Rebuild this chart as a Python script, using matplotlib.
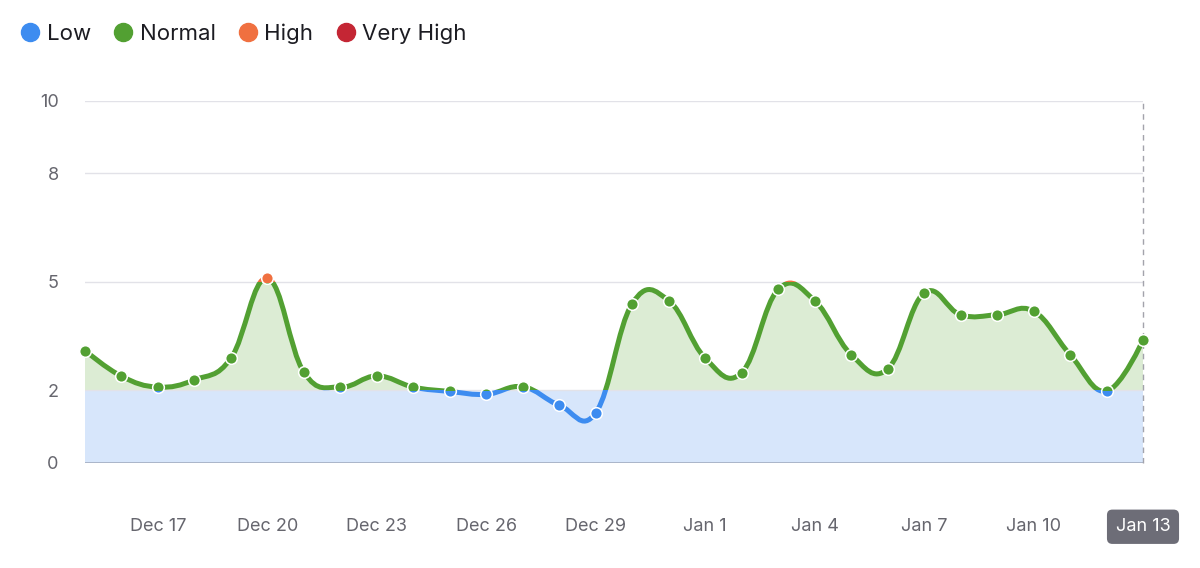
import numpy as np
import pandas as pd
import matplotlib
matplotlib.use("Agg")
import matplotlib.pyplot as plt
import matplotlib.dates as mdates
from matplotlib.path import Path
from matplotlib.patches import PathPatch, Rectangle
from matplotlib.lines import Line2D

plt.rcParams['font.family'] = ['Inter', 'DejaVu Sans']

# data
dates = pd.date_range("2023-12-15", "2024-01-13", freq="D")
values = [3.10, 2.39, 2.09, 2.29, 2.89, 5.10, 2.50, 2.09, 2.40, 2.09,
          1.97, 1.89, 2.10, 1.59, 1.38, 4.40, 4.48, 2.89, 2.49, 4.79,
          4.48, 2.99, 2.59, 4.69, 4.09, 4.09, 4.19, 2.99, 1.98, 3.39]
yticks = [0, 2, 5, 8, 10]

# zones: name, lower, upper, line colour, fill colour
zone_names = ["Low", "Normal", "High", "Very High"]
zone_limits = [(-5, 2), (2, 5), (5, 8), (8, 20)]
zone_colors = ["#3d8cf0", "#52a032", "#f07040", "#c42634"]
zone_fills = ["#d7e6fb", "#dcecd4", "#fbe2d6", "#f5d6d8"]


def spline_path(xs, ys, closed=False):
  # highcharts style spline: smoothing 1.5 with y correction
  n = len(xs)
  lc = [None] * n
  rc = [None] * n
  s = 1.5
  d = s + 1
  for i in range(1, n - 1):
    lx = (s * xs[i] + xs[i - 1]) / d
    ly = (s * ys[i] + ys[i - 1]) / d
    rx = (s * xs[i] + xs[i + 1]) / d
    ry = (s * ys[i] + ys[i + 1]) / d
    corr = (ry - ly) * (rx - xs[i]) / (rx - lx) + ys[i] - ry
    lc[i] = (lx, ly + corr)
    rc[i] = (rx, ry + corr)
  verts = [(xs[0], ys[0])]
  codes = [Path.MOVETO]
  for i in range(1, n):
    c1 = rc[i - 1] if rc[i - 1] is not None else (xs[i - 1], ys[i - 1])
    c2 = lc[i] if lc[i] is not None else (xs[i], ys[i])
    verts += [c1, c2, (xs[i], ys[i])]
    codes += [Path.CURVE4] * 3
  if closed:
    verts += [(xs[-1], 0), (xs[0], 0), (xs[0], ys[0])]
    codes += [Path.LINETO, Path.LINETO, Path.CLOSEPOLY]
  return Path(verts, codes)


x = mdates.date2num(dates)
y = np.array(values)

fig = plt.figure(figsize=(12, 5.68), dpi=100)
ax = fig.add_axes([85 / 1200, 1 - 462.7 / 568, 1058 / 1200, 361.7 / 568])
ax.set_xlim(x[0], x[-1])
ax.set_ylim(0, 10)

def zone_clip(lo, hi):
  return Rectangle((x[0] - 5, lo), x[-1] - x[0] + 10, hi - lo,
                   transform=ax.transData)

# low band
ax.axhspan(0, 2, color=zone_fills[0], lw=0, zorder=0)

# area above 2
area = spline_path(x, y, closed=True)
for (lo, hi), fc in zip(zone_limits[1:], zone_fills[1:]):
  p = PathPatch(area, facecolor=fc, edgecolor="none", zorder=1)
  ax.add_patch(p)
  p.set_clip_path(zone_clip(lo, hi))

# grid
for t in yticks[1:]:
  ax.axhline(t, color="#e2e2e8", lw=1, zorder=1.5)
ax.axhline(0, color="#aab5c9", lw=1.4, zorder=2)
ax.plot([x[-1], x[-1]], [0, 10], color="#a3a3ab", lw=1, dashes=(4, 3.5),
        zorder=2.5, clip_on=False)

# zoned spline + markers
curve = spline_path(x, y)
for (lo, hi), col in zip(zone_limits, zone_colors):
  p = PathPatch(curve, facecolor="none", edgecolor=col, lw=3.6,
                capstyle="round", joinstyle="round", zorder=3)
  ax.add_patch(p)
  p.set_clip_path(zone_clip(lo, hi))
for (lo, hi), col in zip(zone_limits, zone_colors):
  m, = ax.plot(x, y, ls="none", marker="o", ms=8.4, mfc=col,
               mec="white", mew=1.1, zorder=4)
  m.set_clip_path(zone_clip(lo, hi))

for sp in ax.spines.values():
  sp.set_visible(False)

ax.set_yticks(yticks)
ax.set_yticklabels([str(t) for t in yticks])
ax.set_xticks(x[2::3])
ax.set_xticklabels([f"{d:%b} {d.day}" for d in dates[2::3]])
ax.tick_params(axis="y", length=0, pad=19, labelsize=13, labelcolor="#66666e")
ax.tick_params(axis="x", length=0, pad=40, labelsize=13, labelcolor="#66666e")
last = ax.get_xticklabels()[-1]
last.set_color("white")
last.set_bbox(dict(boxstyle="round,pad=0.48,rounding_size=0.3",
                   facecolor="#6d6d77", edgecolor="none"))

handles = [Line2D([], [], ls="none", marker="o", ms=13, mfc=c, mec=c)
           for c in zone_colors]
fig.legend(handles, zone_names, loc="center left",
           bbox_to_anchor=(21 / 1200, 1 - 34 / 568), ncol=4, frameon=False,
           fontsize=16, handlelength=0.8, handletextpad=0.35,
           columnspacing=1.05, borderpad=0, borderaxespad=0,
           labelcolor="#1c1c22")

fig.savefig("out.png", dpi=100)
